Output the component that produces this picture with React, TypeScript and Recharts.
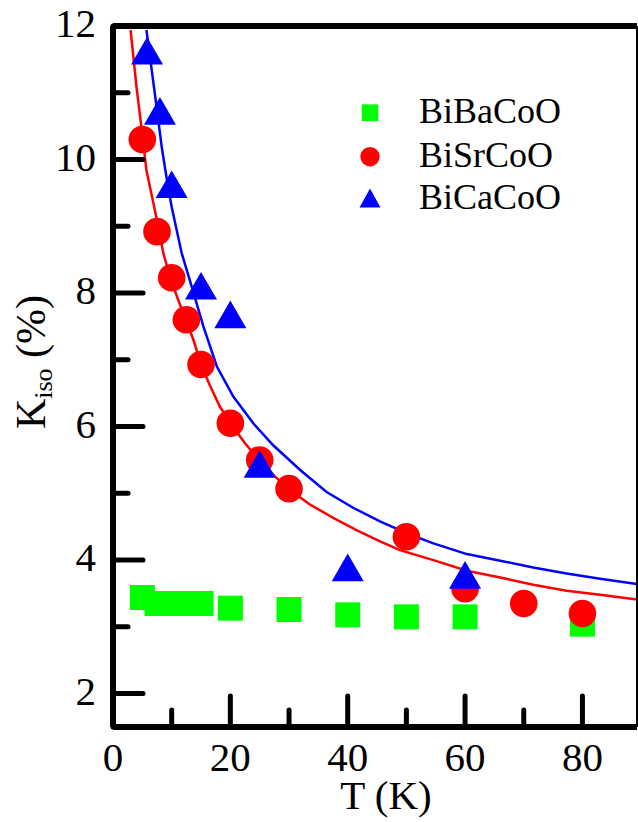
import { ComposedChart, Scatter, Line, XAxis, YAxis, Legend, Label } from 'recharts'

const FONT = "'Liberation Serif', 'Times New Roman', serif"

// measured points
const baT = [5, 7.5, 10, 12.5, 15, 20, 30, 40, 50, 60, 80]
const baK = [3.44, 3.35, 3.35, 3.35, 3.35, 3.28, 3.26, 3.18, 3.15, 3.15, 3.04]

const srT = [5, 7.5, 10, 12.5, 15, 20, 25, 30, 50, 60, 70, 80]
const srK = [10.3, 8.92, 8.23, 7.6, 6.93, 6.05, 5.5, 5.07, 4.35, 3.57, 3.35, 3.2]

const caT = [5.8, 8, 10, 15, 20, 25, 40, 60]
const caK = [11.56, 10.66, 9.56, 8.04, 7.61, 5.37, 3.82, 3.71]

// fit curves
const srFitT = [3.0, 4.0, 4.9, 5.7, 6.3, 7.5, 8.6, 9.8, 11.1, 12.4, 13.7, 15, 16.5, 18.2, 20, 22.5, 25, 27.5, 30, 33.6, 37.6, 41.5, 45.5, 48.9, 54.6, 60.3, 66, 71.6, 77.3, 83, 89.3]
const srFitK = [11.94, 11.09, 10.44, 9.84, 9.59, 9.09, 8.59, 8.22, 7.9, 7.6, 7.3, 6.93, 6.62, 6.3, 6.05, 5.75, 5.49, 5.26, 5.06, 4.83, 4.63, 4.45, 4.28, 4.15, 4.0, 3.84, 3.74, 3.63, 3.54, 3.48, 3.41]

const caFitT = [5.7, 6.6, 7.5, 8.3, 9.2, 10, 11.7, 13.4, 15.4, 17.7, 20.5, 23.9, 27.3, 31.9, 36.4, 41, 45.5, 50.1, 54.6, 60.3, 66, 71.6, 77.3, 83, 89.3]
const caFitK = [11.94, 11.34, 10.74, 10.19, 9.69, 9.29, 8.6, 8.1, 7.5, 6.9, 6.45, 6.05, 5.72, 5.35, 5.02, 4.78, 4.58, 4.4, 4.25, 4.09, 3.99, 3.89, 3.8, 3.72, 3.64]

const xTicks = [0, 10, 20, 30, 40, 50, 60, 70, 80]
const xMajor = [0, 20, 40, 60, 80]
const yTicks = [2, 3, 4, 5, 6, 7, 8, 9, 10, 11, 12]
const yMajor = [2, 4, 6, 8, 10, 12]

const legendItems = [
  { name: 'BiBaCoO', color: '#00ff00', shape: 'square' },
  { name: 'BiSrCoO', color: '#ff0000', shape: 'circle' },
  { name: 'BiCaCoO', color: '#0000ff', shape: 'triangle' },
]

const toPts = (ts: number[], ks: number[]) => ts.map((t, i) => ({ T: t, K: ks[i] }))

const Square = ({ cx, cy }: any) => <rect x={cx - 12.5} y={cy - 12.5} width={25} height={25} fill="#00ff00" />
const Dot = ({ cx, cy }: any) => <circle cx={cx} cy={cy} r={13.8} fill="#ff0000" />
const Tri = ({ cx, cy }: any) => (
  <polygon points={`${cx},${cy - 18.5} ${cx + 16},${cy + 9.2} ${cx - 16},${cy + 9.2}`} fill="#0000ff" />
)

const BottomTick = ({ x, y, payload }: any) => {
  const major = xMajor.includes(payload.value)
  return (
    <g>
      <path d={`M${x},${y}L${x},${y - (major ? 31 : 17)}`} stroke="#000" strokeWidth={5} strokeLinecap="round" />
      {major && (
        <text x={x} y={y + 44} textAnchor="middle" fontSize={41} fontFamily={FONT} fill="#000">
          {payload.value}
        </text>
      )}
    </g>
  )
}

const TopTick = ({ x, y, payload }: any) => {
  if (payload.value === 0) return <g />
  const major = xMajor.includes(payload.value)
  return <path d={`M${x},${y}L${x},${y + (major ? 30 : 16)}`} stroke="#000" strokeWidth={5} strokeLinecap="round" />
}

const LeftTick = ({ x, y, payload }: any) => {
  const major = yMajor.includes(payload.value)
  return (
    <g>
      <path d={`M${x},${y}L${x + (major ? 30 : 15)},${y}`} stroke="#000" strokeWidth={5} strokeLinecap="round" />
      {major && (
        <text x={x - 17} y={y + 11} textAnchor="end" fontSize={41} fontFamily={FONT} fill="#000">
          {payload.value}
        </text>
      )}
    </g>
  )
}

const LegendBox = () => (
  <svg width={270} height={140}>
    {legendItems.map((it, i) => {
      const cy = [27.7, 71.7, 114][i]
      return (
        <g key={it.name}>
          {it.shape === 'square' && <rect x={20 - 8.3} y={cy - 8.3} width={16.6} height={16.6} fill={it.color} />}
          {it.shape === 'circle' && <circle cx={20} cy={cy} r={9.7} fill={it.color} />}
          {it.shape === 'triangle' && (
            <polygon points={`20,${cy - 10.5} 30.5,${cy + 8.5} 9.5,${cy + 8.5}`} fill={it.color} />
          )}
          <text x={69} y={cy + 10} fontSize={36} fontFamily={FONT} fill="#000">
            {it.name}
          </text>
        </g>
      )
    })}
  </svg>
)

const YTitle = ({ viewBox }: any) => {
  const x = viewBox.x + 45
  const y = viewBox.y + 336
  return (
    <text x={x} y={y} transform={`rotate(-90, ${x}, ${y})`} textAnchor="middle" fontSize={42} fontFamily={FONT} fill="#000">
      K<tspan fontSize={26} dy={7}>iso</tspan>
      <tspan dy={-7}>{' (%)'}</tspan>
    </text>
  )
}

const XTitle = ({ viewBox }: any) => (
  <text x={viewBox.x + viewBox.width / 2 + 11} y={viewBox.y + 82} textAnchor="middle" fontSize={41} fontFamily={FONT} fill="#000">
    T (K)
  </text>
)

export default function App() {
  return (
    <div style={{ position: 'absolute', left: 0, top: 0 }}>
      <ComposedChart width={638} height={822} margin={{ top: 25, right: 0, bottom: 0, left: 0 }}>
        <XAxis
          dataKey="T"
          type="number"
          domain={[0, 89.3]}
          allowDataOverflow
          ticks={xTicks}
          interval={0}
          height={95}
          tickSize={0}
          tickMargin={0}
          tickLine={false}
          tick={<BottomTick />}
          axisLine={{ stroke: '#000', strokeWidth: 6 }}
        >
          <Label content={<XTitle />} />
        </XAxis>
        <XAxis
          xAxisId="top"
          orientation="top"
          type="number"
          domain={[0, 89.3]}
          allowDataOverflow
          ticks={xTicks}
          interval={0}
          height={1}
          tickSize={0}
          tickMargin={0}
          tickLine={false}
          tick={<TopTick />}
          axisLine={{ stroke: '#000', strokeWidth: 6 }}
        />
        <YAxis
          dataKey="K"
          type="number"
          domain={[1.5, 12]}
          allowDataOverflow
          ticks={yTicks}
          interval={0}
          width={113}
          tickSize={0}
          tickMargin={0}
          tickLine={false}
          tick={<LeftTick />}
          axisLine={{ stroke: '#000', strokeWidth: 6 }}
        >
          <Label content={<YTitle />} />
        </YAxis>
        <YAxis
          yAxisId="right"
          orientation="right"
          type="number"
          domain={[1.5, 12]}
          allowDataOverflow
          width={1}
          tick={false}
          tickLine={false}
          axisLine={{ stroke: '#000', strokeWidth: 2 }}
        />
        <Legend
          layout="horizontal"
          verticalAlign="middle"
          align="center"
          content={<LegendBox />}
          wrapperStyle={{ left: 350, top: 85, width: 270, height: 140 }}
        />
        <Line
          data={toPts(srFitT, srFitK)}
          dataKey="K"
          type="linear"
          stroke="#ff0000"
          strokeWidth={2.5}
          dot={false}
          activeDot={false}
          isAnimationActive={false}
        />
        <Line
          data={toPts(caFitT, caFitK)}
          dataKey="K"
          type="linear"
          stroke="#0000ff"
          strokeWidth={2.5}
          dot={false}
          activeDot={false}
          isAnimationActive={false}
        />
        <Scatter name="BiBaCoO" data={toPts(baT, baK)} shape={<Square />} isAnimationActive={false} />
        <Scatter name="BiSrCoO" data={toPts(srT, srK)} shape={<Dot />} isAnimationActive={false} />
        <Scatter name="BiCaCoO" data={toPts(caT, caK)} shape={<Tri />} isAnimationActive={false} />
      </ComposedChart>
    </div>
  )
}
